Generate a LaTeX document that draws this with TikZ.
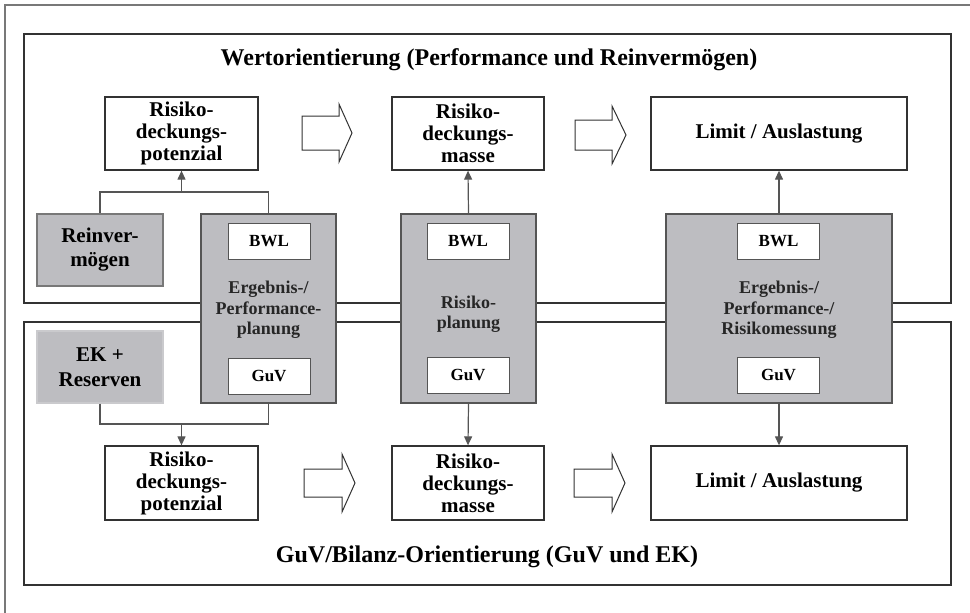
\documentclass[tikz,border=0pt]{standalone}
\usepackage{fontspec}
\setmainfont{Liberation Serif}
\usetikzlibrary{arrows.meta}
\definecolor{grayfill}{RGB}{189,189,193}
\definecolor{lineC}{RGB}{50,50,50}
\definecolor{connC}{RGB}{85,85,85}
\definecolor{frameC}{RGB}{120,120,120}
\tikzset{
  wbox/.style={draw=lineC, line width=1.3pt, fill=white, inner sep=0pt, align=center,
    font=\bfseries\fontsize{21}{22}\selectfont},
  gbox/.style={draw=connC, line width=1.3pt, fill=grayfill, inner sep=0pt},
  gtext/.style={inner sep=0pt, align=center, text=black!85, font=\bfseries\fontsize{18}{20.5}\selectfont},
  sbox/.style={draw=connC, line width=1pt, fill=white, inner sep=0pt, minimum width=82pt, minimum height=36pt,
    font=\bfseries\fontsize{17}{19}\selectfont},
  region/.style={draw=lineC, line width=1.3pt},
  conn/.style={draw=connC, line width=1.2pt},
  arr/.style={conn, -{Triangle[length=9pt,width=8pt]}},
  blockarr/.style={draw=lineC, line width=1pt, fill=white, line join=miter},
  title/.style={inner sep=0pt, font=\bfseries\fontsize{24}{26}\selectfont}
}
\begin{document}
\begin{tikzpicture}[x=1pt,y=-1pt]
\useasboundingbox (0,0) rectangle (970,613);
% outer frame (top and left only)
\draw[draw=frameC, line width=1.5pt] (5,613) -- (5,5) -- (970,5);
% regions
\draw[region] (24,34) rectangle (951,303);
\draw[region] (24,322) rectangle (951,585);
\node[title] (t1) at (489,60) {Wertorientierung (Performance und Reinvermögen)};
\node[title] (t2) at (487,557) {GuV/Bilanz-Orientierung (GuV und EK)};

% top row
\node[wbox, minimum width=153pt, minimum height=73pt] (rdp1) at (181.5,133.5) {Risiko-\\deckungs-\\potenzial};
\node[wbox, minimum width=152pt, minimum height=73pt] (m1) at (468,133.5) {Risiko-\\deckungs-\\masse};
\node[wbox, minimum width=256pt, minimum height=73pt] (l1) at (779,133.5) {Limit / Auslastung};
% bottom row
\node[wbox, minimum width=153pt, minimum height=74pt] (rdp2) at (181.5,483) {Risiko-\\deckungs-\\potenzial};
\node[wbox, minimum width=152pt, minimum height=74pt] (m2) at (468,483) {Risiko-\\deckungs-\\masse};
\node[wbox, minimum width=256pt, minimum height=74pt] (l2) at (779,483) {Limit / Auslastung};

% block arrows
\draw[blockarr] (302,116) -- (339,116) -- (339,104) -- (352,133) -- (339,162) -- (339,150) -- (302,150) -- cycle;
\draw[blockarr] (575,120) -- (612,120) -- (612,106) -- (626,135) -- (612,164) -- (612,150) -- (575,150) -- cycle;
\draw[blockarr] (304,469) -- (342,469) -- (342,454) -- (355,483) -- (342,512) -- (342,497) -- (304,497) -- cycle;
\draw[blockarr] (574,469) -- (612,469) -- (612,454) -- (625,483) -- (612,512) -- (612,497) -- (574,497) -- cycle;

% gray side boxes
\node[gbox, draw=frameC, minimum width=126pt, minimum height=72pt, align=center, font=\bfseries\fontsize{21}{24}\selectfont] (rv) at (100,250) {Reinver-\\mögen};
\node[gbox, draw=grayfill!80!white, minimum width=126pt, minimum height=72pt, align=center, font=\bfseries\fontsize{21}{25}\selectfont] (ek) at (100,367) {EK +\\Reserven};

% gray central boxes
\node[gbox, minimum width=135pt, minimum height=189pt] (g1) at (268.5,308.5) {};
\node[gbox, minimum width=135pt, minimum height=189pt] (g2) at (468.5,308.5) {};
\node[gbox, minimum width=226pt, minimum height=189pt] (g3) at (779,308.5) {};

\node[sbox] (b1) at (269,241) {BWL};
\node[sbox] (u1) at (269,376) {GuV};
\node[sbox] (b2) at (468,241) {BWL};
\node[sbox] (u2) at (468,375) {GuV};
\node[sbox] (b3) at (778.5,241) {BWL};
\node[sbox] (u3) at (778.5,375) {GuV};

\node[gtext] (x1) at (268.5,310) {Ergebnis-/\\Performance-\\planung};
\node[gtext] (x2) at (468.5,314) {Risiko-\\planung};
\node[gtext] (x3) at (779,310) {Ergebnis-/\\Performance-/\\Risikomessung};

% connectors
\coordinate (j1) at (181.5,192);
\coordinate (j2) at (181.5,424);
\draw[conn] (rv.north) |- (j1) -| (g1.north);
\draw[arr] (j1) -- (rdp1.south);
\draw[conn] (ek.south) |- (j2) -| (g1.south);
\draw[arr] (j2) -- (rdp2.north);
\draw[arr] (g2.north) -- (m1.south);
\draw[arr] (g2.south) -- (m2.north);
\draw[arr] (g3.north) -- (l1.south);
\draw[arr] (g3.south) -- (l2.north);
\end{tikzpicture}
\end{document}
